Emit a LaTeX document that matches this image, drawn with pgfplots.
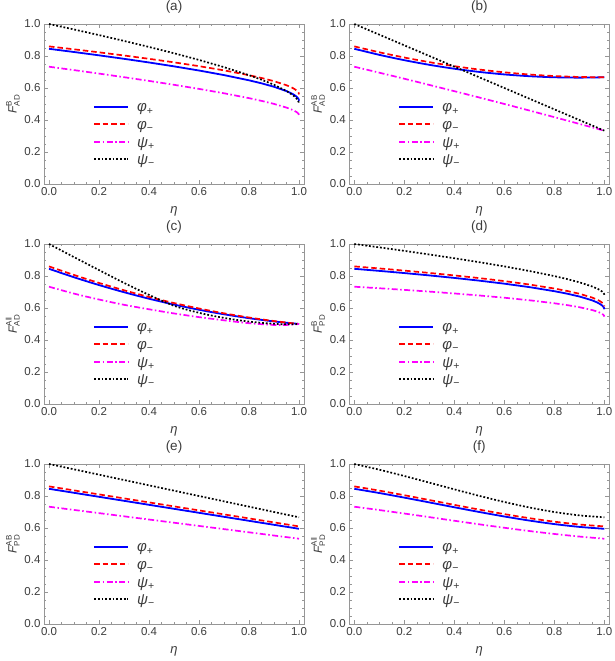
\documentclass[border=0pt]{standalone}
\usepackage{amsmath}
\usepackage{fontspec}
\setmainfont{Liberation Sans}
\usepackage{pgfplots}
\pgfplotsset{compat=1.18}
\definecolor{mblue}{RGB}{0,0,255}
\definecolor{mred}{RGB}{255,0,0}
\definecolor{mmag}{RGB}{255,0,255}
\definecolor{framegray}{RGB}{150,150,150}
\definecolor{labgray}{RGB}{60,60,60}

% legend labels, same strut in every row
\newcommand{\lgs}{\rule[-4.6pt]{0pt}{16.7pt}}
\newcommand{\lphp}{\lgs\textcolor{labgray}{\textit{φ}\textsubscript{+}}}
\newcommand{\lphm}{\lgs\textcolor{labgray}{\textit{φ}\textsubscript{−}}}
\newcommand{\lpsp}{\lgs\textcolor{labgray}{\textit{ψ}\textsubscript{+}}}
\newcommand{\lpsm}{\lgs\textcolor{labgray}{\textit{ψ}\textsubscript{−}}}

\pgfplotsset{
  panel/.style={
    scale only axis, width=260pt, height=160pt,
    anchor=south west,
    xmin=-0.02, xmax=1.02, ymin=0, ymax=1,
    xtick={0,0.2,0.4,0.6,0.8,1}, ytick={0,0.2,0.4,0.6,0.8,1},
    minor tick num=3,
    tick align=inside,
    major tick length=4pt, minor tick length=2.2pt,
    axis line style={framegray, line width=0.6pt},
    tick style={framegray, line width=0.5pt},
    ticklabel style={font=\fontsize{11.5}{13}\selectfont, text=labgray,
      /pgf/number format/fixed, /pgf/number format/fixed zerofill,
      /pgf/number format/precision=1,
      /pgf/number format/assume math mode=true},
    xlabel={\textit{η}},
    every axis x label/.style={at={(axis description cs:0.5,-0.17)}, anchor=center,
      font=\fontsize{13}{15}\selectfont, text=labgray},
    every axis y label/.style={at={(axis description cs:-0.12,0.5)}, rotate=90, anchor=center,
      font=\fontsize{12}{14}\selectfont, text=labgray},
    every axis title/.style={at={(axis description cs:0.5,1.105)}, anchor=center,
      font=\fontsize{13.5}{15}\selectfont, text=labgray},
    legend style={at={(axis description cs:0.188,0.54)}, anchor=north west,
      draw=none, fill=none, inner sep=0pt, row sep=0pt, column sep=6pt,
      font=\fontsize{15}{17}\selectfont},
    legend cell align=left,
    legend image code/.code={\draw[##1, line width=2.1pt] (0pt,0pt) -- (34pt,0pt);},
  },
  curveblue/.style={mblue, line width=1.8pt},
  curvered/.style={mred, line width=1.7pt, dash pattern=on 5.5pt off 3pt},
  curvemag/.style={mmag, line width=1.7pt, dash pattern=on 6pt off 2.5pt on 1.5pt off 2.5pt},
  curveblack/.style={black, line width=1.7pt, dash pattern=on 1.8pt off 1.9pt},
}

\begin{document}
\begin{tikzpicture}
\useasboundingbox (0pt,0pt) rectangle (614pt,661pt);

% (a)
\begin{axis}[panel, at={(44pt,477pt)}, title={(a)},
  ylabel={$\textit{F}^{\text{B}}_{\text{AD}}$}]
\addplot[curveblue] coordinates {(0,0.845) (0.1,0.8249) (0.2,0.8041) (0.3,0.7824) (0.4,0.7595)
  (0.5,0.7353) (0.6,0.7093) (0.7,0.6807) (0.8,0.6480) (0.85,0.6293) (0.9,0.6076)
  (0.95,0.5805) (0.97,0.5663) (0.98,0.5575) (0.99,0.5462) (0.995,0.5384) (0.999,0.5282) (1,0.52)};
\addlegendentry{\lphp}
\addplot[curvered] coordinates {(0,0.86) (0.1,0.8418) (0.2,0.8229) (0.3,0.8032) (0.4,0.7824)
  (0.5,0.7603) (0.6,0.7365) (0.7,0.7102) (0.8,0.68) (0.85,0.6627) (0.9,0.6425)
  (0.95,0.6172) (0.97,0.6037) (0.98,0.5955) (0.99,0.5849) (0.995,0.5775) (0.999,0.5678) (1,0.56)};
\addlegendentry{\lphm}
\addplot[curvemag] coordinates {(0,0.733) (0.1,0.7118) (0.2,0.69) (0.3,0.6675) (0.4,0.6443)
  (0.5,0.62) (0.6,0.5944) (0.7,0.567) (0.8,0.5366) (0.85,0.5195) (0.9,0.5005)
  (0.95,0.4774) (0.97,0.4657) (0.98,0.4586) (0.99,0.4498) (0.995,0.4438) (0.999,0.436) (1,0.43)};
\addlegendentry{\lpsp}
\addplot[curveblack] coordinates {(0,1.0) (0.1,0.9658) (0.2,0.9306) (0.3,0.8943) (0.4,0.8566)
  (0.5,0.8171) (0.6,0.7753) (0.7,0.7303) (0.8,0.68) (0.85,0.6519) (0.9,0.6201)
  (0.95,0.5812) (0.97,0.561) (0.98,0.5493) (0.99,0.5342) (0.995,0.5238) (0.999,0.5104) (1,0.5)};
\addlegendentry{\lpsm}
\end{axis}

% (b)
\begin{axis}[panel, at={(349.3pt,477pt)}, title={(b)},
  ylabel={$\textit{F}^{\text{AB}}_{\text{AD}}$}]
\addplot[curveblue, smooth] coordinates {(0,0.845) (0.1,0.8072) (0.2,0.7738) (0.3,0.7449) (0.4,0.7204)
  (0.5,0.7004) (0.6,0.6848) (0.7,0.6737) (0.8,0.667) (0.9,0.6648) (1,0.667)};
\addlegendentry{\lphp}
\addplot[curvered, smooth] coordinates {(0,0.86) (0.1,0.8233) (0.2,0.7905) (0.3,0.7616) (0.4,0.7365)
  (0.5,0.7153) (0.6,0.698) (0.7,0.6844) (0.8,0.6747) (0.9,0.6689) (1,0.667)};
\addlegendentry{\lphm}
\addplot[curvemag, smooth] coordinates {(0,0.733) (0.1,0.6957) (0.2,0.6578) (0.3,0.6193) (0.4,0.5802)
  (0.5,0.5405) (0.6,0.5002) (0.7,0.4593) (0.8,0.4178) (0.9,0.3757) (1,0.333)};
\addlegendentry{\lpsp}
\addplot[curveblack] coordinates {(0,1.0) (0.5,0.6667) (1,0.3333)};
\addlegendentry{\lpsm}
\end{axis}

% (c)
\begin{axis}[panel, at={(44pt,257pt)}, title={(c)},
  ylabel={$\textit{F}^{\text{All}}_{\text{AD}}$}]
\addplot[curveblue, smooth] coordinates {(0,0.845) (0.1,0.7921) (0.2,0.7434) (0.3,0.6987) (0.4,0.658)
  (0.5,0.6215) (0.6,0.589) (0.7,0.5607) (0.8,0.5364) (0.9,0.5161) (1,0.5)};
\addlegendentry{\lphp}
\addplot[curvered, smooth] coordinates {(0,0.86) (0.1,0.8064) (0.2,0.7566) (0.3,0.7108) (0.4,0.669)
  (0.5,0.631) (0.6,0.597) (0.7,0.5668) (0.8,0.5406) (0.9,0.5184) (1,0.5)};
\addlegendentry{\lphm}
\addplot[curvemag, smooth] coordinates {(0,0.733) (0.1,0.690) (0.2,0.653) (0.3,0.620) (0.4,0.592)
  (0.5,0.566) (0.6,0.543) (0.7,0.523) (0.8,0.505) (0.9,0.494) (0.95,0.494) (1,0.5)};
\addlegendentry{\lpsp}
\addplot[curveblack, smooth] coordinates {(0,1.0) (0.1,0.918) (0.2,0.837) (0.3,0.757) (0.4,0.682)
  (0.5,0.614) (0.6,0.570) (0.7,0.538) (0.8,0.515) (0.9,0.501) (0.95,0.498) (1,0.5)};
\addlegendentry{\lpsm}
\end{axis}

% (d)
\begin{axis}[panel, at={(349.3pt,257pt)}, title={(d)},
  ylabel={$\textit{F}^{\text{B}}_{\text{PD}}$}]
\addplot[curveblue] coordinates {(0,0.845) (0.1,0.832) (0.2,0.8183) (0.3,0.8037) (0.4,0.788)
  (0.5,0.7709) (0.6,0.752) (0.7,0.7306) (0.8,0.7051) (0.85,0.69) (0.9,0.672)
  (0.95,0.6486) (0.97,0.6358) (0.98,0.6278) (0.99,0.6173) (0.995,0.6099) (0.999,0.600) (1,0.592)};
\addlegendentry{\lphp}
\addplot[curvered] coordinates {(0,0.86) (0.1,0.8472) (0.2,0.8336) (0.3,0.8192) (0.4,0.8036)
  (0.5,0.7868) (0.6,0.7681) (0.7,0.7469) (0.8,0.7218) (0.85,0.7068) (0.9,0.6891)
  (0.95,0.6659) (0.97,0.6533) (0.98,0.6454) (0.99,0.635) (0.995,0.6277) (0.999,0.6179) (1,0.61)};
\addlegendentry{\lphm}
\addplot[curvemag] coordinates {(0,0.733) (0.1,0.7234) (0.2,0.7133) (0.3,0.7025) (0.4,0.6909)
  (0.5,0.6782) (0.6,0.6643) (0.7,0.6484) (0.8,0.6296) (0.85,0.6184) (0.9,0.6051)
  (0.95,0.5878) (0.97,0.5784) (0.98,0.5724) (0.99,0.5647) (0.995,0.5592) (0.999,0.5519) (1,0.546)};
\addlegendentry{\lpsp}
\addplot[curveblack] coordinates {(0,1.0) (0.1,0.9789) (0.2,0.9571) (0.3,0.9345) (0.4,0.911)
  (0.5,0.8863) (0.6,0.86) (0.7,0.8314) (0.8,0.7994) (0.85,0.7813) (0.9,0.7607)
  (0.95,0.7353) (0.97,0.7222) (0.98,0.7143) (0.99,0.7041) (0.995,0.6971) (0.999,0.6881) (1,0.681)};
\addlegendentry{\lpsm}
\end{axis}

% (e)
\begin{axis}[panel, at={(44pt,37pt)}, title={(e)},
  ylabel={$\textit{F}^{\text{AB}}_{\text{PD}}$}]
\addplot[curveblue] coordinates {(0,0.845) (0.5,0.72) (1,0.595)};
\addlegendentry{\lphp}
\addplot[curvered] coordinates {(0,0.86) (0.5,0.735) (1,0.61)};
\addlegendentry{\lphm}
\addplot[curvemag] coordinates {(0,0.733) (0.5,0.633) (1,0.533)};
\addlegendentry{\lpsp}
\addplot[curveblack] coordinates {(0,1.0) (0.5,0.8333) (1,0.6667)};
\addlegendentry{\lpsm}
\end{axis}

% (f)
\begin{axis}[panel, at={(349.3pt,37pt)}, title={(f)},
  ylabel={$\textit{F}^{\text{All}}_{\text{PD}}$}]
\addplot[curveblue, smooth] coordinates {(0,0.845) (0.1,0.8186) (0.2,0.7899) (0.3,0.7599) (0.4,0.7296)
  (0.5,0.70) (0.6,0.672) (0.7,0.6465) (0.8,0.6245) (0.9,0.607) (1,0.595)};
\addlegendentry{\lphp}
\addplot[curvered, smooth] coordinates {(0,0.86) (0.1,0.8336) (0.2,0.8049) (0.3,0.7749) (0.4,0.7446)
  (0.5,0.715) (0.6,0.687) (0.7,0.6615) (0.8,0.6395) (0.9,0.622) (1,0.61)};
\addlegendentry{\lphm}
\addplot[curvemag, smooth] coordinates {(0,0.733) (0.1,0.7123) (0.2,0.6904) (0.3,0.668) (0.4,0.6453)
  (0.5,0.623) (0.6,0.6015) (0.7,0.5812) (0.8,0.5628) (0.9,0.5465) (1,0.533)};
\addlegendentry{\lpsp}
\addplot[curveblack, smooth] coordinates {(0,1.0) (0.1,0.9643) (0.2,0.925) (0.3,0.8836) (0.4,0.8417)
  (0.5,0.8008) (0.6,0.7626) (0.7,0.7285) (0.8,0.7) (0.9,0.6789) (1,0.6667)};
\addlegendentry{\lpsm}
\end{axis}
\end{tikzpicture}
\end{document}
